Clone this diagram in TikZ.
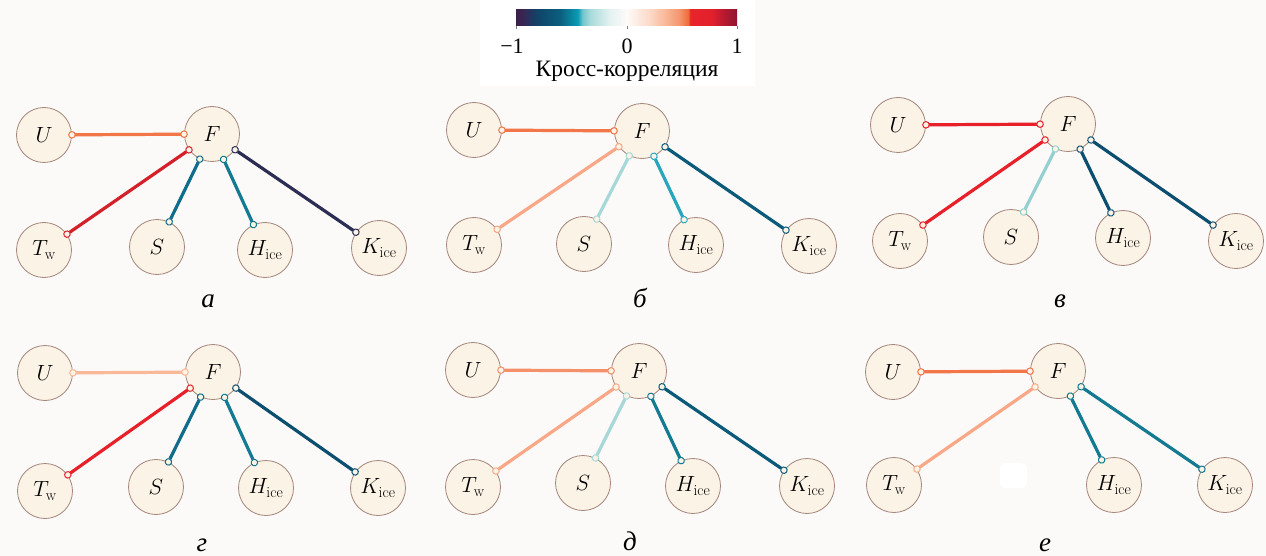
\RequirePackage{fix-cm}
\documentclass[tikz,border=0pt]{standalone}
\usepackage{fontspec}
\newfontfamily\cyrserif{Liberation Serif}
\usetikzlibrary{arrows.meta}
\definecolor{bg}{HTML}{FBFAF8}
\definecolor{nodefill}{HTML}{FCF3E7}
\definecolor{nodeborder}{HTML}{A3857A}
\definecolor{cNavy}{HTML}{2B2D52}
\definecolor{cDeep}{HTML}{0C4E70}
\definecolor{cDark}{HTML}{0B5A7A}
\definecolor{cTeal}{HTML}{0F6C8A}
\definecolor{cTealB}{HTML}{137A92}
\definecolor{cCyan}{HTML}{2AA6BC}
\definecolor{cPale}{HTML}{A6D8D8}
\definecolor{cPaleB}{HTML}{94D0D0}
\definecolor{cSalmonL}{HTML}{F9B898}
\definecolor{cSalmon}{HTML}{F8A886}
\definecolor{cOrangeL}{HTML}{F4906A}
\definecolor{cOrange}{HTML}{F27648}
\definecolor{cRed}{HTML}{E8202A}
\definecolor{cRedD}{HTML}{D42029}
% colour bar stops
\definecolor{k0}{HTML}{3B1F4A}
\definecolor{k1}{HTML}{3A2550}
\definecolor{k2}{HTML}{163F66}
\definecolor{k3}{HTML}{0D4D70}
\definecolor{k4}{HTML}{0B5F7E}
\definecolor{k5}{HTML}{0A9CB5}
\definecolor{k6}{HTML}{70C4CC}
\definecolor{k7}{HTML}{A8DADB}
\definecolor{k8}{HTML}{E4F2F1}
\definecolor{k9}{HTML}{FDFBF8}
\definecolor{r1}{HTML}{FCD9C8}
\definecolor{r2}{HTML}{F9B898}
\definecolor{r3}{HTML}{F4956E}
\definecolor{r4}{HTML}{F06A38}
\definecolor{r5}{HTML}{E9252A}
\definecolor{r6}{HTML}{E2202C}
\definecolor{r7}{HTML}{C01A30}
\definecolor{r8}{HTML}{8E1530}
\pgfdeclarehorizontalshading{corrbar}{100bp}{color(0bp)=(k0); color(25bp)=(k0);
 color(26.35bp)=(k1); color(29.25bp)=(k2); color(31.5bp)=(k3); color(35bp)=(k4);
 color(39bp)=(k5); color(40bp)=(k6); color(41.75bp)=(k7); color(46.25bp)=(k8);
 color(50bp)=(k9); color(55.25bp)=(r1); color(58.75bp)=(r2); color(62bp)=(r3);
 color(64bp)=(r4); color(64.4bp)=(r5); color(69.25bp)=(r6); color(71.5bp)=(r7);
 color(75bp)=(r8); color(100bp)=(r8)}
\tikzset{
  endc/.tip={Circle[length=7.5pt,width=7.5pt,line width=1pt,fill=nodefill]},
  var/.style={circle, draw=nodeborder, fill=nodefill, line width=0.8pt,
    minimum size=55pt, inner sep=0pt, font=\fontsize{22}{26}\selectfont},
  link/.style={line width=3.2pt, endc-endc, shorten <=-3.7pt, shorten >=-3.7pt},
  plabel/.style={anchor=base, font=\cyrserif\itshape\fontsize{27}{30}\selectfont},
  barlabel/.style={anchor=base, font=\cyrserif\fontsize{22}{26}\selectfont},
}
\begin{document}
\begin{tikzpicture}[x=1pt,y=-1pt]
\fill[bg] (0,0) rectangle (1266,556);
\useasboundingbox (0,0) rectangle (1266,556);
% colour bar
\fill[white] (480,0) rectangle (755,86);
\shade[shading=corrbar] (516,10) rectangle (737,26);
\foreach \t in {516,627,737} \draw[gray, line width=0.6pt] (\t,26) -- (\t,29);
\node[barlabel] (m1) at (512,54) {−1};
\node[barlabel] (z0) at (627,54) {0};
\node[barlabel] (p1) at (737,54) {1};
\node[barlabel, font=\cyrserif\fontsize{23.5}{27}\selectfont] (cbt) at (627,77) {Кросс-корреляция};

% panel a
\node[var] (aU) at (44,135) {$U$};
\node[var] (aF) at (212,134) {$F$};
\node[var] (aT) at (44,250) {$T_{\mathrm{w}}$};
\node[var] (aS) at (157,247) {$S$};
\node[var] (aH) at (265,250) {$H_{\mathrm{ice}}$};
\node[var] (aK) at (379,248) {$K_{\mathrm{ice}}$};
\draw[link, cOrange] (aU) -- (aF);
\draw[link, cRedD] (aT) -- (aF);
\draw[link, cTeal] (aS) -- (aF);
\draw[link, cTealB] (aH) -- (aF);
\draw[link, cNavy] (aK) -- (aF);
\node[plabel] (la) at (208,307) {а};

% panel b
\node[var] (bU) at (474,130) {$U$};
\node[var] (bF) at (642,131) {$F$};
\node[var] (bT) at (474,245) {$T_{\mathrm{w}}$};
\node[var] (bS) at (584,244) {$S$};
\node[var] (bH) at (696,245) {$H_{\mathrm{ice}}$};
\node[var] (bK) at (809,246) {$K_{\mathrm{ice}}$};
\draw[link, cOrange] (bU) -- (bF);
\draw[link, cSalmon] (bT) -- (bF);
\draw[link, cPale] (bS) -- (bF);
\draw[link, cCyan] (bH) -- (bF);
\draw[link, cDark] (bK) -- (bF);
\node[plabel] (lb) at (640,307) {б};

% panel v
\node[var] (cU) at (898,125) {$U$};
\node[var] (cF) at (1068,124) {$F$};
\node[var] (cT) at (900,241) {$T_{\mathrm{w}}$};
\node[var] (cS) at (1011,237) {$S$};
\node[var] (cH) at (1123,238) {$H_{\mathrm{ice}}$};
\node[var] (cK) at (1236,241) {$K_{\mathrm{ice}}$};
\draw[link, cRed] (cU) -- (cF);
\draw[link, cRed] (cT) -- (cF);
\draw[link, cPaleB] (cS) -- (cF);
\draw[link, cDeep] (cH) -- (cF);
\draw[link, cDeep] (cK) -- (cF);
\node[plabel] (lc) at (1060,307) {в};

% panel g
\node[var] (dU) at (45,373) {$U$};
\node[var] (dF) at (213,372) {$F$};
\node[var] (dT) at (45,491) {$T_{\mathrm{w}}$};
\node[var] (dS) at (156,487) {$S$};
\node[var] (dH) at (266,488) {$H_{\mathrm{ice}}$};
\node[var] (dK) at (378,488) {$K_{\mathrm{ice}}$};
\draw[link, cSalmonL] (dU) -- (dF);
\draw[link, cRed] (dT) -- (dF);
\draw[link, cTeal] (dS) -- (dF);
\draw[link, cTealB] (dH) -- (dF);
\draw[link, cDeep] (dK) -- (dF);
\node[plabel] (ld) at (202,551) {г};

% panel d
\node[var] (eU) at (473,370) {$U$};
\node[var] (eF) at (639,371) {$F$};
\node[var] (eT) at (473,487) {$T_{\mathrm{w}}$};
\node[var] (eS) at (583,483) {$S$};
\node[var] (eH) at (693,486) {$H_{\mathrm{ice}}$};
\node[var] (eK) at (807,486) {$K_{\mathrm{ice}}$};
\draw[link, cOrangeL] (eU) -- (eF);
\draw[link, cSalmon] (eT) -- (eF);
\draw[link, cPale] (eS) -- (eF);
\draw[link, cTealB] (eH) -- (eF);
\draw[link, cDark] (eK) -- (eF);
\node[plabel] (le) at (630,550) {д};

% panel e
\fill[white, rounded corners=6pt] (1000,463) rectangle (1027,488);
\node[var] (fU) at (893,372) {$U$};
\node[var] (fF) at (1058,371) {$F$};
\node[var] (fT) at (894,485) {$T_{\mathrm{w}}$};
\node[var] (fH) at (1114,485) {$H_{\mathrm{ice}}$};
\node[var] (fK) at (1225,485) {$K_{\mathrm{ice}}$};
\draw[link, cOrange] (fU) -- (fF);
\draw[link, cSalmon] (fT) -- (fF);
\draw[link, cTealB] (fH) -- (fF);
\draw[link, cTealB] (fK) -- (fF);
\node[plabel] (lf) at (1045,551) {е};
\end{tikzpicture}
\end{document}
